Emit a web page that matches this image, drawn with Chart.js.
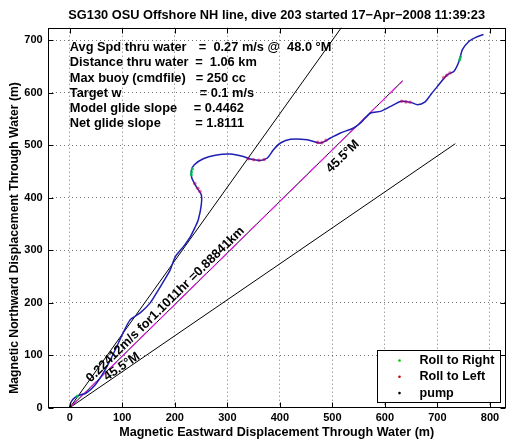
<!DOCTYPE html>
<html>
<head>
<meta charset="utf-8">
<script src="https://cdn.jsdelivr.net/npm/chart.js@4.4.1/dist/chart.umd.min.js"></script>
<style>
html, body { margin: 0; padding: 0; background: #fff; }
#wrap { width: 514px; height: 442px; position: relative; }
</style>
</head>
<body>
<div id="wrap"><canvas id="glideChart"></canvas></div>
<script>
var titleText = 'SG130 OSU Offshore NH line, dive 203 started 17\u2212Apr\u22122008 11:39:23';
var xLabel = 'Magnetic Eastward Displacement Through Water (m)';
var yLabel = 'Magnetic Northward Displacement Through Water (m)';

// glider track through water (m east, m north)
var trackX = [0, 2.5, 10.1, 19.6, 31.1, 48.3, 67.3, 86.4, 99.8, 115.0, 134.1, 153.2, 166.5, 178.0, 191.3, 200.9, 216.1, 229.5, 239.0, 244.7, 250.4, 250.4, 240.9, 232.3, 231.4, 237.1, 254.2, 277.1, 305.7, 330.5, 343.9, 363.0, 376.3, 387.8, 401.1, 420.2, 452.0, 477.4, 496.5, 515.5, 540.3, 553.7, 572.8, 591.8, 610.9, 630.0, 649.0, 662.4, 675.8, 687.2, 700.0, 719.1, 731.6, 741.2, 747.6, 760.3, 773.0, 787.7];
var trackY = [0, 10.9, 19.5, 24.2, 28.0, 43.3, 71.9, 110.0, 138.6, 167.3, 180.6, 199.7, 220.7, 239.8, 262.7, 287.4, 306.5, 325.6, 344.7, 358.0, 386.6, 405.7, 420.9, 438.1, 451.5, 462.9, 474.4, 481.0, 483.3, 478.7, 473.8, 471.1, 475.7, 491.5, 504.3, 511.5, 510.6, 504.3, 513.8, 523.4, 532.9, 542.4, 561.5, 564.6, 574.1, 583.6, 581.7, 577.3, 582.1, 596.4, 612.2, 634.6, 640.9, 659.9, 682.3, 698.1, 705.7, 710.9];

var rollRightX = [14.0, 231.5, 232.0, 233.5, 742.5, 744.0];
var rollRightY = [22.0, 444.0, 449.0, 455.0, 663.0, 668.0];
var rollLeftX = [238, 244, 248, 340, 350, 360, 370, 472, 480, 488, 632, 640, 648, 712, 718, 724];
var rollLeftY = [427, 418, 412, 474.5, 472.5, 471.5, 472.8, 505.5, 505.0, 509.5, 583.8, 582.6, 581.9, 628.8, 633.5, 637.8];
var pumpX = [1];
var pumpY = [2];

// reference lines from the dive start
var netLineX = [0, 633.6];
var netLineY = [0, 622.7];
var steepLineX = [0, 522];
var steepLineY = [0, 731];
var lowerLineX = [0, 734];
var lowerLineY = [0, 503];

var statLabels = ['Avg Spd thru water', 'Distance thru water', 'Max buoy (cmdfile)', 'Target w', 'Model glide slope', 'Net glide slope'];
var statValues = ['=  0.27 m/s @  48.0 \u00b0M', '=  1.06 km', '= 250 cc', '= 0.1 m/s', '= 0.4462', '= 1.8111'];
var netText = '0.22412m/s for1.1011hr =0.88841km';
var headText = '45.5\u00b0M';
var legendNames = ['Roll to Right', 'Roll to Left', 'pump'];

var fontFam = '"Liberation Sans", Arial, Helvetica, sans-serif';
Chart.defaults.font.family = fontFam;
Chart.defaults.color = '#000';

function pts(xs, ys) {
  var out = [];
  for (var i = 0; i < xs.length; i++) out.push({x: xs[i], y: ys[i]});
  return out;
}

function textAlong(chart, txt, lx, ly, ax, ay, align, base, off) {
  var c = chart.ctx, sx = chart.scales.x, sy = chart.scales.y;
  var ang = Math.atan2(sy.getPixelForValue(ly) - sy.getPixelForValue(0), sx.getPixelForValue(lx) - sx.getPixelForValue(0));
  c.save();
  c.translate(sx.getPixelForValue(ax), sy.getPixelForValue(ay));
  c.rotate(ang);
  c.textAlign = align;
  c.textBaseline = base;
  c.fillText(txt, 0, off);
  c.restore();
}

var glideExtras = {
  id: 'glideExtras',
  afterDraw: function(chart) {
    var c = chart.ctx, a = chart.chartArea, sx = chart.scales.x, sy = chart.scales.y;
    var L = Math.round(a.left) + 0.5, R = Math.round(a.right) - 0.5, T = Math.round(a.top) + 0.5, B = Math.round(a.bottom) - 0.5;
    c.save();
    c.fillStyle = '#000';
    c.font = 'bold 12.8px ' + fontFam;
    c.textAlign = 'center';
    c.textBaseline = 'middle';
    c.fillText(titleText, (a.left + a.right) / 2, 15);

    // y axis title
    c.save();
    c.translate(15, 238);
    c.rotate(-Math.PI / 2);
    c.font = 'bold 12.2px ' + fontFam;
    c.fillText(yLabel, 0, 0);
    c.restore();

    // axes box and inward ticks
    c.strokeStyle = '#000';
    c.lineWidth = 1;
    c.strokeRect(L, T, R - L, B - T);
    c.beginPath();
    sx.ticks.forEach(function(t) {
      var px = Math.round(sx.getPixelForValue(t.value)) + 0.5;
      c.moveTo(px, B); c.lineTo(px, B - 5);
      c.moveTo(px, T); c.lineTo(px, T + 5);
    });
    sy.ticks.forEach(function(t) {
      var py = Math.round(sy.getPixelForValue(t.value)) + 0.5;
      c.moveTo(L, py); c.lineTo(L + 5, py);
      c.moveTo(R, py); c.lineTo(R - 5, py);
    });
    c.stroke();

    // stats block
    var eqX = [245.8, 238.9, 240.0, 247.3, 236.2, 238.9];
    c.font = 'bold 12.8px ' + fontFam;
    c.textAlign = 'left';
    for (var i = 0; i < statLabels.length; i++) {
      var py = 47.8 + i * 15.1;
      c.fillText(statLabels[i], sx.getPixelForValue(0), py);
      c.fillText(statValues[i], sx.getPixelForValue(eqX[i]), py);
    }

    // labels along the lines
    textAlong(chart, netText, netLineX[1], netLineY[1], 44.2, 43.5, 'left', 'alphabetic', -3);
    textAlong(chart, headText, netLineX[1], netLineY[1], 504, 495, 'center', 'middle', 12);
    textAlong(chart, headText, lowerLineX[1], lowerLineY[1], 104, 71, 'center', 'alphabetic', -1);

    // legend
    var bx = Math.round(a.right) - 128.5, by = 350.5, bw = 123, bh = 52;
    c.fillStyle = '#fff';
    c.fillRect(bx, by, bw, bh);
    c.strokeRect(bx, by, bw, bh);
    var dotCols = ['#00c800', '#d00000', '#000000'];
    c.font = 'bold 12.6px ' + fontFam;
    for (var k = 0; k < legendNames.length; k++) {
      var ly = by + 10 + k * 16.3;
      c.fillStyle = dotCols[k];
      c.beginPath();
      c.arc(bx + 22, ly, 1.3, 0, Math.PI * 2);
      c.fill();
      c.fillStyle = '#000';
      c.textAlign = 'left';
      c.fillText(legendNames[k], bx + 42, ly);
    }
    c.restore();
  }
};

var ctx = document.getElementById('glideChart');
var glideChart = new Chart(ctx, {
  type: 'scatter',
  data: {
    datasets: [
      { label: 'pump', data: pts(pumpX, pumpY), pointRadius: 1.2, pointBorderWidth: 0, pointBackgroundColor: '#000', order: 0 },
      { label: 'Roll to Left', data: pts(rollLeftX, rollLeftY), pointRadius: 1.8, pointBorderWidth: 0, pointBackgroundColor: 'rgba(200,0,90,0.55)', order: 1 },
      { label: 'Roll to Right', data: pts(rollRightX, rollRightY), pointRadius: 1.6, pointBorderWidth: 0, pointBackgroundColor: 'rgba(0,200,80,0.8)', order: 2 },
      { label: 'track', data: pts(trackX, trackY), showLine: true, pointRadius: 0, borderColor: '#1f1fb4', borderWidth: 1.5, tension: 0.25, order: 3 },
      { label: 'net dash', data: pts(netLineX, netLineY), showLine: true, pointRadius: 0, borderColor: '#e01ee0', borderWidth: 1.2, borderDash: [10, 4], order: 4 },
      { label: 'net', data: pts(netLineX, netLineY), showLine: true, pointRadius: 0, borderColor: '#000', borderWidth: 1, order: 5 },
      { label: 'steep', data: pts(steepLineX, steepLineY), showLine: true, pointRadius: 0, borderColor: '#000', borderWidth: 1, clip: 0, order: 6 },
      { label: 'lower', data: pts(lowerLineX, lowerLineY), showLine: true, pointRadius: 0, borderColor: '#000', borderWidth: 1, order: 7 }
    ]
  },
  options: {
    responsive: true,
    maintainAspectRatio: false,
    animation: false,
    devicePixelRatio: 1,
    layout: { padding: { top: 27.7, right: 8.3, bottom: 0, left: 0 } },
    plugins: {
      legend: { display: false },
      tooltip: { enabled: false },
      title: { display: false }
    },
    scales: {
      x: {
        type: 'linear',
        min: -42,
        max: 830,
        afterFit: function(s) { s.height = 34.3; },
        ticks: { stepSize: 100, includeBounds: false, maxRotation: 0, padding: 4, font: { size: 11, weight: 'bold' }, color: '#000' },
        grid: { color: 'rgba(0,0,0,0.55)', lineWidth: 1, drawTicks: false },
        border: { display: false, dash: [1, 3] },
        title: { display: true, text: xLabel, font: { size: 12.6, weight: 'bold' }, color: '#000', padding: { top: 0, bottom: 2.3 } }
      },
      y: {
        type: 'linear',
        min: 0,
        max: 724,
        afterFit: function(s) { s.width = 47.7; },
        ticks: { stepSize: 100, includeBounds: false, padding: 5, font: { size: 11, weight: 'bold' }, color: '#000' },
        grid: { color: 'rgba(0,0,0,0.55)', lineWidth: 1, drawTicks: false },
        border: { display: false, dash: [1, 3] },
        title: { display: false }
      }
    }
  },
  plugins: [glideExtras]
});
</script>
</body>
</html>
